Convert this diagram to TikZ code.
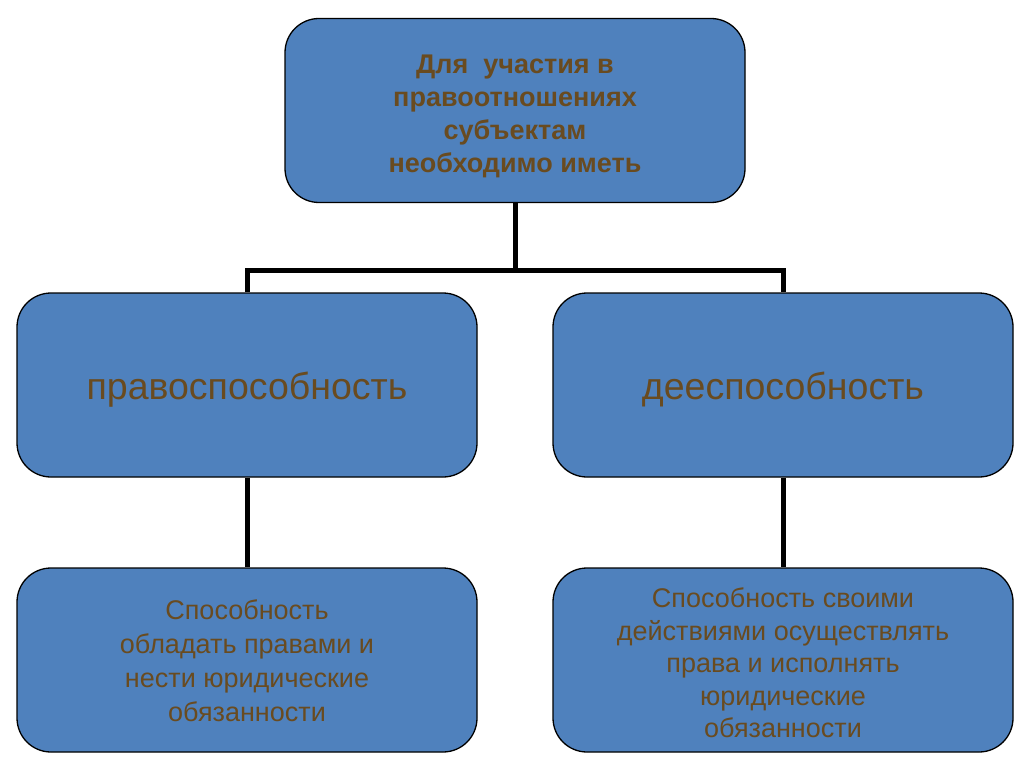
\documentclass[tikz,border=0pt]{standalone}
\usepackage{fontspec}
\setmainfont{Liberation Sans}
\definecolor{boxblue}{HTML}{4F81BD}
\definecolor{txtbrown}{HTML}{694B20}
\newcommand\shiftedlines[2]{\raisebox{#1}[\height][\depth]{\begin{tabular}{@{}c@{}}#2\end{tabular}}}
\begin{document}
\begin{tikzpicture}[x=1pt,y=-1pt,
  box/.style={draw=black,line width=1.3pt,fill=boxblue,rounded corners=34pt,
    minimum width=460pt,minimum height=184pt,text=txtbrown,inner sep=0pt},
  link/.style={draw=black,line width=5pt}]
\useasboundingbox (0,0) rectangle (1024,767);
\fill[white] (0,0) rectangle (1024,767);
\node[box,font=\bfseries\fontsize{27}{33}\selectfont] (top) at (515,110.5)
  {\shiftedlines{-6pt}{Для \ участия в\\правоотношениях\\субъектам\\ необходимо иметь}};
\node[box,font=\fontsize{37.5}{44}\selectfont] (pravo) at (247,385) {\shiftedlines{-6pt}{правоспособность}};
\node[box,font=\fontsize{37.5}{44}\selectfont] (dee) at (783,385) {\shiftedlines{-6pt}{дееспособность}};
\node[box,font=\fontsize{27}{34}\selectfont] (pravodef) at (247,660)
  {\shiftedlines{-4pt}{Способность\\ обладать правами и\\нести юридические\\обязанности}};
\node[box,font=\fontsize{27}{32.5}\selectfont] (deedef) at (783,660)
  {\shiftedlines{-6pt}{Способность своими\\действиями осуществлять\\права и исполнять\\юридические\\ обязанности}};
\coordinate (j) at (515,270);
\draw[link] (top.south) -- (j);
\draw[link] (pravo.north) |- (j) -| (dee.north);
\draw[link] (pravo.south) -- (pravodef.north);
\draw[link] (dee.south) -- (deedef.north);
\end{tikzpicture}
\end{document}
